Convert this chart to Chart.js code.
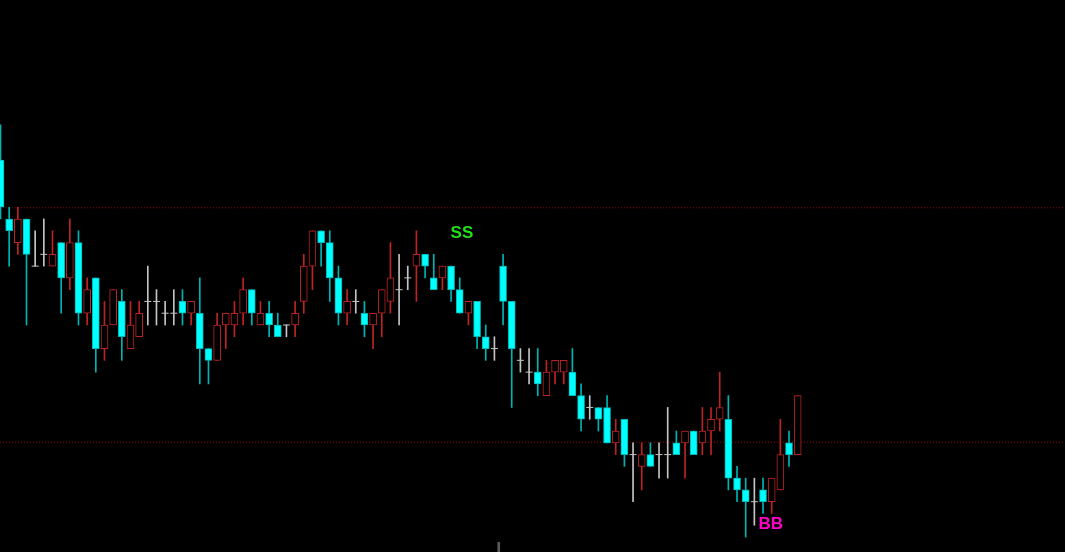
<!DOCTYPE html>
<html>
<head>
<meta charset="utf-8">
<script src="https://cdn.jsdelivr.net/npm/chart.js@4/dist/chart.umd.min.js"></script>
<style>
  html, body { margin: 0; padding: 0; background: #000; overflow: hidden; }
  #wrap { width: 1065px; height: 552px; position: relative; background: #000; }
</style>
</head>
<body>
<div id="wrap"><canvas id="c"></canvas></div>
<script>
// ---- data (price in points) ----
const opens  = [35,30,28,30,26,27,26,28,25,28,22,25,19,21,23,19,20,23,23,22,22,23,22,22,19,18,21,21,22,24,21,22,21,21,21,23,26,29,28,25,22,23,22,21,22,23,24,25,26,27,25,25,26,24,22,23,20,19,26,23,18,17,17,15,17,17,17,15,14,14,14,11,13,10,9,10,10,10,11,11,12,11,12,13,13,8,7,6,7,6,7,11,10];
const highs  = [38,31,31,30,29,30,29,28,30,29,25,25,23,24,24,23,23,26,24,23,24,24,23,25,19,22,22,23,25,24,23,23,22,21,23,27,29,29,29,26,24,24,23,22,24,28,27,26,29,27,27,26,26,25,23,23,21,20,27,23,19,19,19,18,18,18,19,16,15,14,15,13,13,11,11,11,11,14,12,12,12,14,14,17,15,9,8,8,8,8,13,12,15];
const lows   = [30,26,27,21,26,26,26,22,24,21,21,17,18,21,18,19,20,21,21,21,21,21,21,16,16,18,19,20,21,21,21,20,20,20,20,22,24,26,23,21,21,22,20,19,20,22,21,24,23,25,24,24,23,22,21,19,18,18,21,14,17,16,15,15,16,16,15,12,13,12,11,10,9,6,7,9,8,8,10,8,10,10,10,12,7,6,3,4,5,5,7,9,10];
const closes = [31,29,30,27,26,27,27,25,28,22,24,19,21,24,20,21,22,23,23,22,22,22,23,19,18,21,22,22,24,22,22,21,20,21,22,26,29,28,25,22,23,23,21,22,24,25,24,25,27,26,24,26,24,22,23,20,19,19,23,19,18,17,16,17,18,18,15,13,14,13,11,12,10,10,10,9,10,10,10,12,10,12,13,14,8,7,6,6,6,8,10,10,15];

const levelLines   = [30.95, 11.05];         // dotted horizontal levels
const signalIndex  = [53.25, 88.9];          // candle index of signals
const signalPrice  = [28.8, 4.12];           // price of signal text
const signalText   = ['SS', 'BB'];
const signalColor  = ['#22e01c', '#ff00c8'];
const markerIndex  = [57.5];                 // small separator mark at bottom
const markerRange  = [[1.0, 2.55]];

const X_MIN = -0.058, X_MAX = 122.85;
const Y_MIN = 1.73,   Y_MAX = 48.59;

// ---- colours ----
const BEAR_FILL = '#00ffff', BEAR_EDGE = '#00b8b8', BEAR_WICK = '#00b4b4';
const BULL_FILL = '#000000', BULL_EDGE = '#bc2424', BULL_WICK = '#bc2424';
const DOJI = '#c4c4c4';

const n = opens.length;
const idx = Array.from({length: n}, (_, i) => i);
const kind = idx.map(i => closes[i] < opens[i] ? 'bear' : (closes[i] > opens[i] ? 'bull' : 'doji'));

const bodyPts = [], bodyFill = [], bodyEdge = [];
idx.forEach(i => {
  if (kind[i] === 'doji') return;
  bodyPts.push({x: i, y: [opens[i], closes[i]]});
  bodyFill.push(kind[i] === 'bear' ? BEAR_FILL : BULL_FILL);
  bodyEdge.push(kind[i] === 'bear' ? BEAR_EDGE : BULL_EDGE);
});
const wickPts = idx.map(i => ({x: i, y: [lows[i], highs[i]]}));
const wickCol = idx.map(i => kind[i] === 'bear' ? BEAR_WICK : (kind[i] === 'bull' ? BULL_WICK : DOJI));
const dojiPts = idx.filter(i => kind[i] === 'doji').map(i => ({x: i, y: closes[i]}));

const levelSets = levelLines.map(v => ({
  type: 'line',
  data: [{x: X_MIN, y: v}, {x: X_MAX, y: v}],
  borderColor: '#a00000',
  borderWidth: 1,
  borderDash: [1, 2],
  pointRadius: 0,
  order: 5
}));

const signalPlugin = {
  id: 'signals',
  afterDatasetsDraw(chart) {
    const {ctx, scales: {x, y}} = chart;
    ctx.save();
    ctx.font = 'bold 17px "Liberation Sans", Arial, sans-serif';
    ctx.textAlign = 'center';
    ctx.textBaseline = 'middle';
    signalText.forEach((t, k) => {
      ctx.fillStyle = signalColor[k];
      ctx.fillText(t, x.getPixelForValue(signalIndex[k]), y.getPixelForValue(signalPrice[k]));
    });
    ctx.restore();
  }
};

new Chart(document.getElementById('c'), {
  type: 'bar',
  data: {
    datasets: [
      {
        type: 'bar', data: bodyPts, backgroundColor: bodyFill, borderColor: bodyEdge,
        borderWidth: 1, borderSkipped: false, barThickness: 7, grouped: false, order: 0
      },
      {
        type: 'line', data: dojiPts, showLine: false, pointStyle: 'line', pointRadius: 3.5,
        pointBorderColor: DOJI, pointBorderWidth: 1, borderColor: DOJI, order: 1
      },
      {
        type: 'bar', data: wickPts, backgroundColor: wickCol, borderWidth: 0,
        barThickness: 1, grouped: false, order: 2
      },
      {
        type: 'bar', data: markerIndex.map((m, k) => ({x: m, y: markerRange[k]})),
        backgroundColor: '#5a5a5a', borderWidth: 0, barThickness: 2, grouped: false, order: 3
      },
      ...levelSets
    ]
  },
  options: {
    responsive: true,
    maintainAspectRatio: false,
    animation: false,
    layout: { padding: 0, autoPadding: false },
    plugins: { legend: { display: false }, tooltip: { enabled: false } },
    scales: {
      x: { type: 'linear', min: X_MIN, max: X_MAX, offset: false, display: false, grid: { display: false } },
      y: { type: 'linear', min: Y_MIN, max: Y_MAX, display: false, grid: { display: false } }
    }
  },
  plugins: [signalPlugin]
});
</script>
</body>
</html>
